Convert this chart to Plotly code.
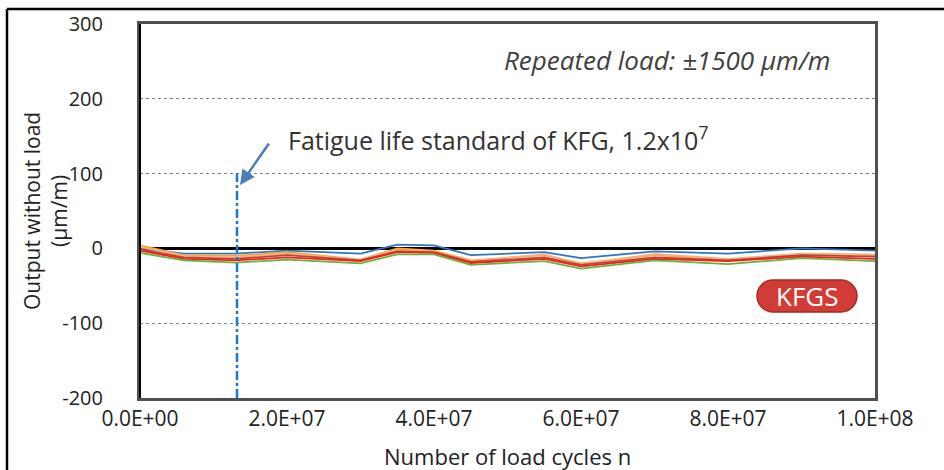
import plotly.graph_objects as go

# ---- data ----
cycles = [0, 6e6, 1.3e7, 2e7, 3e7, 3.5e7, 4e7, 4.5e7, 5.5e7, 6e7, 7e7, 8e7, 9e7, 1e8]
s_blue = [0, -7, -7, -3, -7, 5, 4, -9, -5, -13, -4, -7, 0, -3]
s_orange = [4, -9, -10, -5, -15, 0, -3, -16, -9, -20, -9, -15, -8, -9]
s_peach = [2, -10, -12, -7, -15, -2, -4, -17, -8, -21, -7.5, -14, -7, -8]
s_brown = [-1, -12, -14, -9, -16, -4, -5, -18, -12, -22, -12, -16, -9, -11]
s_red = [-3, -14, -16, -12, -17, -5, -6, -19.5, -14, -24, -14, -17, -11, -14]
s_green = [-6, -16, -19, -15, -20, -8, -8, -22, -17, -27, -16, -21, -13, -17]

series = [
    ("s1", s_blue, "#2E75C8"),
    ("s2", s_orange, "#F5A623"),
    ("s3", s_peach, "#F4B183"),
    ("s4", s_brown, "#B5483A"),
    ("s5", s_red, "#FF1A1A"),
    ("s6", s_green, "#5CB83A"),
]

x_tickvals = [0, 2e7, 4e7, 6e7, 8e7, 1e8]
x_ticktext = ["0.0E+00", "2.0E+07", "4.0E+07", "6.0E+07", "8.0E+07", "1.0E+08"]
y_tickvals = [-200, -100, 0, 100, 200, 300]
y_ticktext = ["-200", "-100", "0", "100", "200", "300"]

fatigue_x = 1.32e7
fatigue_top = 100

W, H = 944, 470
L, R, T, B = 140, 69, 24, 72
PW, PH = W - L - R, H - T - B


def px(x):
    return (x - L) / PW


def py(y):
    return (H - B - y) / PH


FONT = "Open Sans"

fig = go.Figure()
for name, vals, col in series:
    fig.add_trace(go.Scatter(x=cycles, y=vals, mode="lines", name=name,
                             line=dict(color=col, width=1.8), showlegend=False))

# fatigue line
fig.add_trace(go.Scatter(x=[fatigue_x, fatigue_x], y=[-200, fatigue_top], mode="lines",
                         line=dict(color="#1F78C8", width=2.5, dash="dashdot"),
                         showlegend=False, hoverinfo="skip"))

fig.update_layout(
    width=W, height=H,
    margin=dict(l=L, r=R, t=T, b=B, autoexpand=False),
    paper_bgcolor="white", plot_bgcolor="white",
    font=dict(family=FONT, color="#222", size=20),
    xaxis=dict(range=[0, 1e8], tickvals=x_tickvals, ticktext=x_ticktext,
               showgrid=False, zeroline=False, showline=True, mirror=True,
               linecolor="#505050", linewidth=3, ticks="", ticklabelstandoff=0,
               automargin=False,
               tickfont=dict(size=21, family=FONT)),
    yaxis=dict(range=[-200, 300], tickvals=y_tickvals, ticktext=y_ticktext,
               showgrid=True, gridcolor="#7f7f7f", griddash="dot", gridwidth=1,
               zeroline=True, zerolinecolor="black", zerolinewidth=2.5,
               showline=True, mirror=True, linecolor="#505050", linewidth=3,
               ticks="", ticklabelstandoff=30, automargin=False,
               tickfont=dict(size=20, family=FONT)),
)

# axis titles
fig.add_annotation(xref="paper", yref="paper", x=px(507), y=py(456), xanchor="center", yanchor="middle",
                   text="Number of load cycles n", showarrow=False,
                   font=dict(size=22, family=FONT, color="#222"))
fig.add_annotation(xref="paper", yref="paper", x=px(45), y=py(211), xanchor="center", yanchor="middle",
                   text="Output without load<br>(μm/m)", showarrow=False, textangle=-90,
                   font=dict(size=21, family=FONT, color="#222"))

# left axis line darker
fig.add_shape(type="line", xref="paper", yref="paper", x0=0, x1=0, y0=0, y1=1,
              line=dict(color="black", width=2))

# outer frame
fig.add_shape(type="line", xref="paper", yref="paper", x0=px(7), x1=px(944), y0=py(9), y1=py(9),
              line=dict(color="black", width=2.5), layer="above")
fig.add_shape(type="line", xref="paper", yref="paper", x0=px(7), x1=px(7), y0=py(9), y1=py(470),
              line=dict(color="black", width=2.5), layer="above")

fig.add_annotation(xref="paper", yref="paper", x=px(832), y=py(60), xanchor="right", yanchor="middle",
                   text="<i>Repeated load: ±1500 μm/m</i>", showarrow=False,
                   font=dict(size=26, family=FONT, color="#404040"))

fig.add_annotation(xref="paper", yref="paper", x=px(286), y=py(138), xanchor="left", yanchor="middle",
                   text="Fatigue life standard of KFG, 1.2x10<sup>7</sup>", showarrow=False,
                   font=dict(size=25, family=FONT, color="#333"))

fig.add_annotation(xref="paper", yref="paper", x=px(240), y=py(185),
                   ax=30, ay=-43,
                   text="", showarrow=True, arrowhead=2, arrowsize=1.2, arrowwidth=2.5,
                   arrowcolor="#4A7EBB")

# KFGS badge (rounded pill)
x0, x1, y0, y1, r = 757, 857, 280, 312, 16
k = 0.55 * r
pts = (f"M {px(x0 + r)},{py(y0)} L {px(x1 - r)},{py(y0)} "
       f"C {px(x1 - r + k)},{py(y0)} {px(x1)},{py(y0 + r - k)} {px(x1)},{py(y0 + r)} "
       f"C {px(x1)},{py(y1 - r + k)} {px(x1 - r + k)},{py(y1)} {px(x1 - r)},{py(y1)} "
       f"L {px(x0 + r)},{py(y1)} "
       f"C {px(x0 + r - k)},{py(y1)} {px(x0)},{py(y1 - r + k)} {px(x0)},{py(y1 - r)} "
       f"C {px(x0)},{py(y0 + r - k)} {px(x0 + r - k)},{py(y0)} {px(x0 + r)},{py(y0)} Z")
fig.add_shape(type="path", xref="paper", yref="paper", path=pts, layer="below",
              fillcolor="#D23C36", line=dict(color="#A52A25", width=1.5))
fig.add_annotation(xref="paper", yref="paper", x=px(807), y=py(296), xanchor="center", yanchor="middle",
                   text="KFGS", showarrow=False,
                   font=dict(size=26, family=FONT, color="white"))

fig.write_html("out.html", config={"displayModeBar": False},
               post_script="document.body.style.margin='0px';")
